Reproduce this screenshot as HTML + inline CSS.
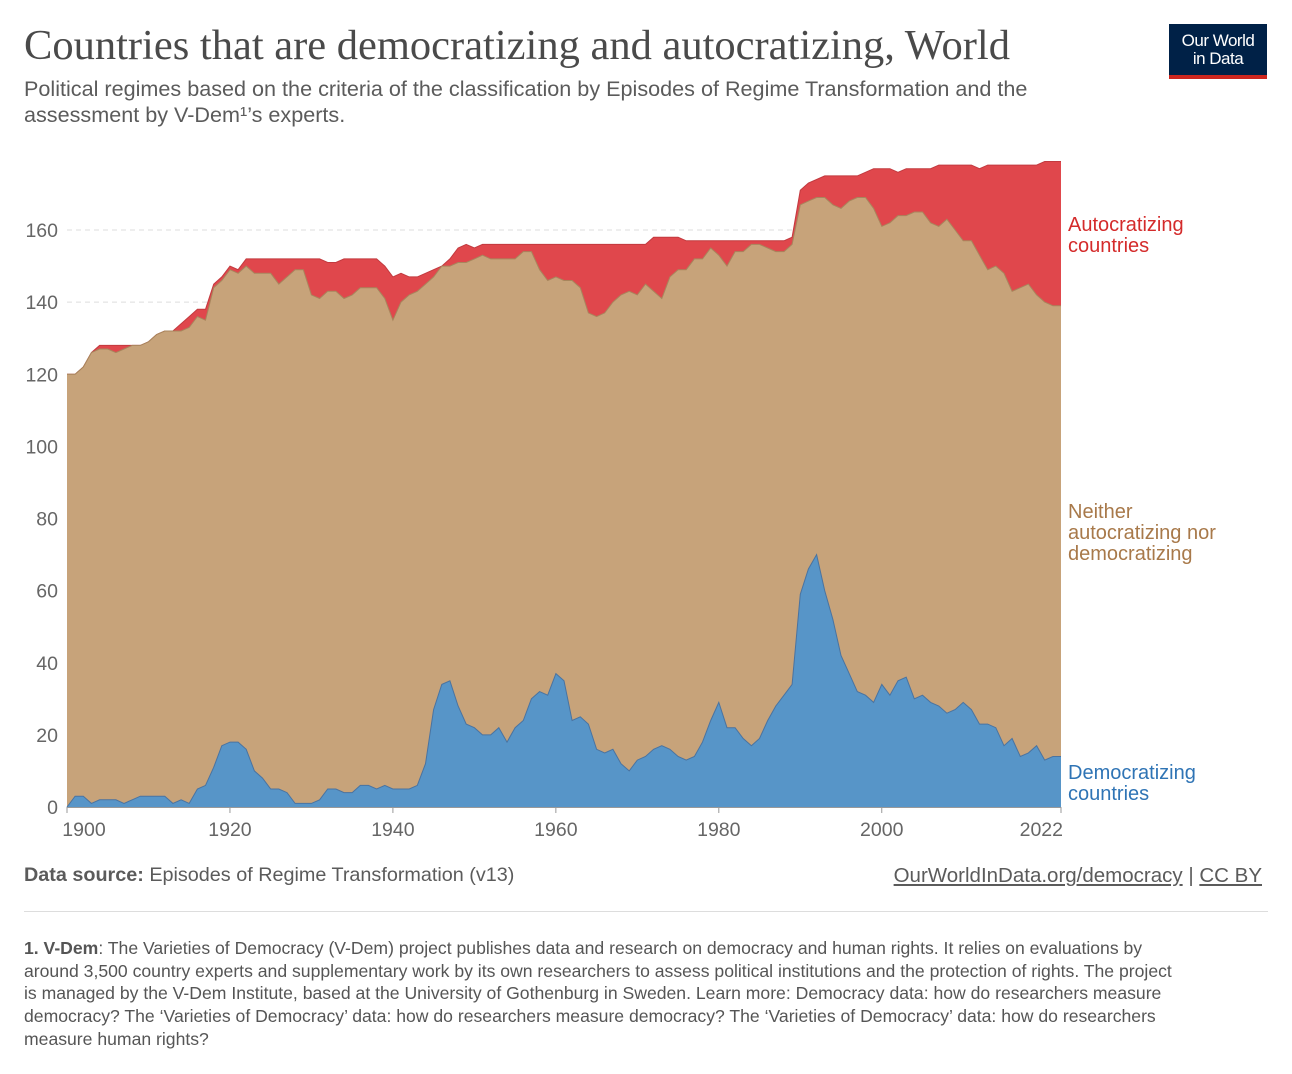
<!DOCTYPE html>
<html><head><meta charset="utf-8">
<style>
body{margin:0;background:#fff;font-family:"Liberation Sans",sans-serif;}
#wrap{position:relative;width:1292px;height:1074px;overflow:hidden;}
.t{position:absolute;white-space:nowrap;}
</style></head>
<body>
<div id="wrap">
<div class="t" style="left:24px;top:21px;font-family:'Liberation Serif',serif;font-size:42.5px;color:#4a4a4a;">Countries that are democratizing and autocratizing, World</div>
<div class="t" style="left:24px;top:76px;font-size:21.6px;line-height:26px;color:#5b5b5b;">Political regimes based on the criteria of the classification by Episodes of Regime Transformation and the<br>assessment by V-Dem¹’s experts.</div>
<div style="position:absolute;left:1169px;top:24px;width:98px;height:55px;background:#002147;border-bottom:4px solid #ce261e;box-sizing:border-box;color:#fff;font-size:17px;line-height:18px;text-align:center;padding-top:8px;letter-spacing:-0.5px;">Our World<br>in Data</div>
<svg id="chart" width="1292" height="860" style="position:absolute;left:0;top:0;"></svg>
<div class="t" style="left:24px;top:864px;font-size:19.8px;color:#5b5b5b;"><b>Data source:</b> Episodes of Regime Transformation (v13)</div>
<div class="t" style="right:30px;top:864px;font-size:20.5px;color:#5b5b5b;"><u>OurWorldInData.org/democracy</u> | <u>CC BY</u></div>
<div style="position:absolute;left:24px;top:911px;width:1244px;height:1px;background:#ddd;"></div>
<div class="t" style="left:24px;top:937px;font-size:17.6px;line-height:22.7px;color:#555;"><b>1. V-Dem</b>: The Varieties of Democracy (V-Dem) project publishes data and research on democracy and human rights. It relies on evaluations by<br>around 3,500 country experts and supplementary work by its own researchers to assess political institutions and the protection of rights. The project<br>is managed by the V-Dem Institute, based at the University of Gothenburg in Sweden. Learn more: Democracy data: how do researchers measure<br>democracy? The ‘Varieties of Democracy’ data: how do researchers measure democracy? The ‘Varieties of Democracy’ data: how do researchers<br>measure human rights?</div>
</div>
<script>
const startYear = 1900;
const democratizing = [0,3,3,1,2,2,2,1,2,3,3,3,3,1,2,1,5,6,11,17,18,18,16,10,8,5,5,4,1,1,1,2,5,5,4,4,6,6,5,6,5,5,5,6,12,27,34,35,28,23,22,20,20,22,18,22,24,30,32,31,37,35,24,25,23,16,15,16,12,10,13,14,16,17,16,14,13,14,18,24,29,22,22,19,17,19,24,28,31,34,59,66,70,60,52,42,37,32,31,29,34,31,35,36,30,31,29,28,26,27,29,27,23,23,22,17,19,14,15,17,13,14,14];
const democratizingPlusNeither = [120,120,122,126,127,127,126,127,128,128,129,131,132,132,132,133,136,135,144,146,149,148,150,148,148,148,145,147,149,149,142,141,143,143,141,142,144,144,144,141,135,140,142,143,145,147,150,150,151,151,152,153,152,152,152,152,154,154,149,146,147,146,146,144,137,136,137,140,142,143,142,145,143,141,147,149,149,152,152,155,153,150,154,154,156,156,155,154,154,156,167,168,169,169,167,166,168,169,169,166,161,162,164,164,165,165,162,161,163,160,157,157,153,149,150,148,143,144,145,142,140,139,139];
const totalCountries = [120,120,122,126,128,128,128,128,128,128,129,131,132,132,134,136,138,138,145,147,150,149,152,152,152,152,152,152,152,152,152,152,151,151,152,152,152,152,152,150,147,148,147,147,148,149,150,152,155,156,155,156,156,156,156,156,156,156,156,156,156,156,156,156,156,156,156,156,156,156,156,156,158,158,158,158,157,157,157,157,157,157,157,157,157,157,157,157,157,158,171,173,174,175,175,175,175,175,176,177,177,177,176,177,177,177,177,178,178,178,178,178,177,178,178,178,178,178,178,178,179,179,179];
const yTicks = [0,20,40,60,80,100,120,140,160];
const xTicks = [1900,1920,1940,1960,1980,2000,2022];

const NS = "http://www.w3.org/2000/svg";
const svg = document.getElementById('chart');
const x0 = 67, x1 = 1061, y0 = 807, yTop = 230;
const xs = y => x0 + (y - startYear) / (2022 - startYear) * (x1 - x0);
const ys = v => y0 - v / 160 * (y0 - yTop);
function mk(tag, attrs){const e=document.createElementNS(NS,tag);for(const k in attrs)e.setAttribute(k,attrs[k]);svg.appendChild(e);return e;}

yTicks.forEach(t=>{
  if(t>0){const g=mk('line',{x1:x0,x2:x1,y1:ys(t),y2:ys(t),stroke:'#ddd','stroke-dasharray':'5,4'});
  
  }
  const l=mk('text',{x:58,y:ys(t)+7,'text-anchor':'end','font-size':19.5,fill:'#666','font-family':'Liberation Sans, sans-serif'});
  l.textContent=t;
  
  
});

function area(top,bottom,fill,stroke,name){
  let d='';
  top.forEach((v,i)=>{d+=(i?'L':'M')+xs(startYear+i).toFixed(1)+','+ys(v).toFixed(1);});
  for(let i=bottom.length-1;i>=0;i--){d+='L'+xs(startYear+i).toFixed(1)+','+ys(bottom[i]).toFixed(1);}
  d+='Z';
  const p=mk('path',{d:d,fill:fill});
  
  
  let ld='';
  top.forEach((v,i)=>{ld+=(i?'L':'M')+xs(startYear+i).toFixed(1)+','+ys(v).toFixed(1);});
  const s=mk('path',{d:ld,fill:'none',stroke:stroke,'stroke-width':1});
  
  
}
const zeros = democratizing.map(()=>0);
area(totalCountries, democratizingPlusNeither, '#e0474c', '#c23a3f', 'autocratizing-area');
area(democratizingPlusNeither, democratizing, '#c7a37a', '#a8855c', 'neither-area');
area(democratizing, zeros, '#5795c8', '#4a73a0', 'democratizing-area');

const ax=mk('line',{x1:x0,x2:x1,y1:y0+0.5,y2:y0+0.5,stroke:'#999'});


xTicks.forEach(t=>{
  const tk=mk('line',{x1:xs(t),x2:xs(t),y1:y0,y2:y0+6,stroke:'#999'});
  
  
  let anchor='middle', xx=xs(t);
  if(t===startYear){xx=xs(t)+17;}
  if(t===2022){anchor='end';xx=xs(t)+2;}
  const l=mk('text',{x:xx,y:836,'text-anchor':anchor,'font-size':19.5,fill:'#666','font-family':'Liberation Sans, sans-serif'});
  l.textContent=t;
  
  
});

function legend(lines,y,color,name){
  const tx=mk('text',{x:1068,y:y,'font-size':20,fill:color,'font-family':'Liberation Sans, sans-serif'});
  
  
  lines.forEach((s,i)=>{const ts=document.createElementNS(NS,'tspan');ts.setAttribute('x',1068);ts.setAttribute('dy',i?21:0);ts.textContent=s;tx.appendChild(ts);});
}
legend(['Autocratizing','countries'],231,'#d42b2b','legend-autocratizing');
legend(['Neither','autocratizing nor','democratizing'],518,'#a8794a','legend-neither');
legend(['Democratizing','countries'],779,'#2f74b5','legend-democratizing');
</script>
</body></html>
